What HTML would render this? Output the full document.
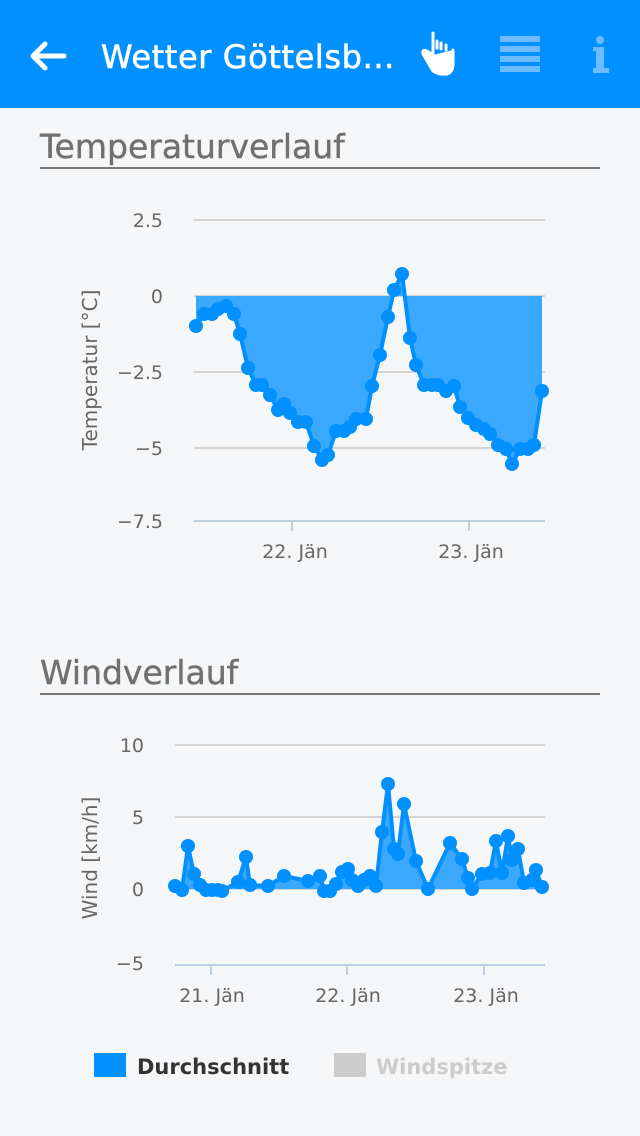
<!DOCTYPE html>
<html><head><meta charset="utf-8"><style>
body{margin:0;width:640px;height:1136px;background:#f5f6f8;font-family:"DejaVu Sans","Liberation Sans",sans-serif;overflow:hidden;position:relative}
.bar{position:absolute;left:0;top:0;width:640px;height:108px;background:#0090ff}
.title{position:absolute;left:101px;top:38px;color:#fff;font-size:32px;letter-spacing:0.6px;-webkit-text-stroke:0.6px #fff}
h2{position:absolute;margin:0;left:40px;font-weight:normal;color:#707070;font-size:33px;width:560px;border-bottom:2px solid #777;padding-bottom:0;line-height:40px;-webkit-text-stroke:0.4px #707070}
</style></head><body>
<div class="bar"></div>
<svg style="position:absolute;left:0;top:0" width="640" height="108">
<path d="M33 56 H64 M33 56 L45 44 M33 56 L45 68" stroke="#fff" stroke-width="5" stroke-linecap="round" stroke-linejoin="round" fill="none"/>
<path d="M433 33 v22 M433 55 l-6 -4 q-5 -2 -4 3 l10 17 q6 4 14 3 q6 -2 6 -10 v-14 M437 48 v-7 M441 49 v-6 M446 50 v-5" stroke="#fff" stroke-width="3" fill="#fff" stroke-linecap="round"/>
<g fill="#6dbcff"><rect x="500" y="36" width="40" height="6"/><rect x="500" y="46" width="40" height="6"/><rect x="500" y="56" width="40" height="6"/><rect x="500" y="66" width="40" height="6"/>
<circle cx="600" cy="40" r="4"/><rect x="593" y="47" width="11" height="4"/><rect x="596" y="47" width="8" height="24"/><rect x="593" y="68" width="16" height="5"/></g>
</svg>
<div class="title">Wetter Göttelsb...</div>
<h2 style="top:127px">Temperaturverlauf</h2>
<h2 style="top:653px">Windverlauf</h2>
<svg style="position:absolute;left:0;top:0" width="640" height="1136" font-family="DejaVu Sans, Liberation Sans, sans-serif">
<g stroke="#d4d4d4" stroke-width="2"><line x1="194" x2="545" y1="220" y2="220"/><line x1="194" x2="545" y1="296" y2="296"/><line x1="194" x2="545" y1="372" y2="372"/><line x1="194" x2="545" y1="448" y2="448"/>
<line x1="175" x2="545" y1="745" y2="745"/><line x1="175" x2="545" y1="817" y2="817"/><line x1="175" x2="545" y1="889" y2="889"/></g>
<g stroke="#c0cfe0" stroke-width="2"><line x1="194" x2="545" y1="521" y2="521"/><line x1="292" x2="292" y1="521" y2="531"/><line x1="469" x2="469" y1="521" y2="531"/>
<line x1="175" x2="545" y1="965" y2="965"/><line x1="211" x2="211" y1="965" y2="975"/><line x1="347" x2="347" y1="965" y2="975"/><line x1="484" x2="484" y1="965" y2="975"/></g>
<g fill="#666" font-size="19" text-anchor="end"><text x="163" y="227">2.5</text><text x="163" y="303">0</text><text x="163" y="379">−2.5</text><text x="163" y="455">−5</text><text x="163" y="528">−7.5</text>
<text x="144" y="752">10</text><text x="144" y="824">5</text><text x="144" y="896">0</text><text x="144" y="970">−5</text></g>
<g fill="#666" font-size="19" text-anchor="middle"><text x="295" y="558">22. Jän</text><text x="471" y="558">23. Jän</text>
<text x="212" y="1002">21. Jän</text><text x="348" y="1002">22. Jän</text><text x="486" y="1002">23. Jän</text>
<text transform="translate(97,370) rotate(-90)" font-size="20">Temperatur [°C]</text><text transform="translate(97,858) rotate(-90)" font-size="20">Wind [km/h]</text></g>
<polygon fill="#3aa8fc" points="196,296 196,326 204,314 212,314 218,309 226,306 234,314 240,334 248,368 256,385 262,385 270,395 278,410 284,404 290,413 298,422 306,422 314,446 322,460 328,455 336,431 344,431 350,427 356,419 366,419 372,386 380,355 388,317 394,290 402,274 410,338 416,365 424,385 432,385 438,385 446,391 454,386 460,407 468,418 476,425 484,429 490,434 498,445 506,449 512,464 520,449 528,449 534,445 542,391 542,296"/>
<polyline fill="none" stroke="#0090ff" stroke-width="4" stroke-linejoin="round" points="196,326 204,314 212,314 218,309 226,306 234,314 240,334 248,368 256,385 262,385 270,395 278,410 284,404 290,413 298,422 306,422 314,446 322,460 328,455 336,431 344,431 350,427 356,419 366,419 372,386 380,355 388,317 394,290 402,274 410,338 416,365 424,385 432,385 438,385 446,391 454,386 460,407 468,418 476,425 484,429 490,434 498,445 506,449 512,464 520,449 528,449 534,445 542,391"/>
<g fill="#0090ff">
<circle cx="196" cy="326" r="7"/><circle cx="204" cy="314" r="7"/><circle cx="212" cy="314" r="7"/><circle cx="218" cy="309" r="7"/><circle cx="226" cy="306" r="7"/><circle cx="234" cy="314" r="7"/><circle cx="240" cy="334" r="7"/><circle cx="248" cy="368" r="7"/><circle cx="256" cy="385" r="7"/><circle cx="262" cy="385" r="7"/><circle cx="270" cy="395" r="7"/><circle cx="278" cy="410" r="7"/><circle cx="284" cy="404" r="7"/><circle cx="290" cy="413" r="7"/><circle cx="298" cy="422" r="7"/><circle cx="306" cy="422" r="7"/><circle cx="314" cy="446" r="7"/><circle cx="322" cy="460" r="7"/><circle cx="328" cy="455" r="7"/><circle cx="336" cy="431" r="7"/><circle cx="344" cy="431" r="7"/><circle cx="350" cy="427" r="7"/><circle cx="356" cy="419" r="7"/><circle cx="366" cy="419" r="7"/><circle cx="372" cy="386" r="7"/><circle cx="380" cy="355" r="7"/><circle cx="388" cy="317" r="7"/><circle cx="394" cy="290" r="7"/><circle cx="402" cy="274" r="7"/><circle cx="410" cy="338" r="7"/><circle cx="416" cy="365" r="7"/><circle cx="424" cy="385" r="7"/><circle cx="432" cy="385" r="7"/><circle cx="438" cy="385" r="7"/><circle cx="446" cy="391" r="7"/><circle cx="454" cy="386" r="7"/><circle cx="460" cy="407" r="7"/><circle cx="468" cy="418" r="7"/><circle cx="476" cy="425" r="7"/><circle cx="484" cy="429" r="7"/><circle cx="490" cy="434" r="7"/><circle cx="498" cy="445" r="7"/><circle cx="506" cy="449" r="7"/><circle cx="512" cy="464" r="7"/><circle cx="520" cy="449" r="7"/><circle cx="528" cy="449" r="7"/><circle cx="534" cy="445" r="7"/><circle cx="542" cy="391" r="7"/>
</g>
<polygon fill="#3aa8fc" points="175,889 175,886 182,890 188,846 194,874 200,885 206,890 212,890 218,890 222,891 238,882 246,857 250,885 268,886 284,876 308,881 320,876 324,891 330,891 336,884 342,872 348,869 352,880 358,886 364,880 370,876 376,886 382,832 388,784 394,849 398,854 404,804 416,861 428,889 450,843 462,859 468,878 472,889 482,874 490,873 496,841 502,873 508,836 512,860 518,849 524,883 532,880 536,870 542,887 542,889"/>
<polyline fill="none" stroke="#0090ff" stroke-width="4" stroke-linejoin="round" points="175,886 182,890 188,846 194,874 200,885 206,890 212,890 218,890 222,891 238,882 246,857 250,885 268,886 284,876 308,881 320,876 324,891 330,891 336,884 342,872 348,869 352,880 358,886 364,880 370,876 376,886 382,832 388,784 394,849 398,854 404,804 416,861 428,889 450,843 462,859 468,878 472,889 482,874 490,873 496,841 502,873 508,836 512,860 518,849 524,883 532,880 536,870 542,887"/>
<g fill="#0090ff">
<circle cx="175" cy="886" r="7"/><circle cx="182" cy="890" r="7"/><circle cx="188" cy="846" r="7"/><circle cx="194" cy="874" r="7"/><circle cx="200" cy="885" r="7"/><circle cx="206" cy="890" r="7"/><circle cx="212" cy="890" r="7"/><circle cx="218" cy="890" r="7"/><circle cx="222" cy="891" r="7"/><circle cx="238" cy="882" r="7"/><circle cx="246" cy="857" r="7"/><circle cx="250" cy="885" r="7"/><circle cx="268" cy="886" r="7"/><circle cx="284" cy="876" r="7"/><circle cx="308" cy="881" r="7"/><circle cx="320" cy="876" r="7"/><circle cx="324" cy="891" r="7"/><circle cx="330" cy="891" r="7"/><circle cx="336" cy="884" r="7"/><circle cx="342" cy="872" r="7"/><circle cx="348" cy="869" r="7"/><circle cx="352" cy="880" r="7"/><circle cx="358" cy="886" r="7"/><circle cx="364" cy="880" r="7"/><circle cx="370" cy="876" r="7"/><circle cx="376" cy="886" r="7"/><circle cx="382" cy="832" r="7"/><circle cx="388" cy="784" r="7"/><circle cx="394" cy="849" r="7"/><circle cx="398" cy="854" r="7"/><circle cx="404" cy="804" r="7"/><circle cx="416" cy="861" r="7"/><circle cx="428" cy="889" r="7"/><circle cx="450" cy="843" r="7"/><circle cx="462" cy="859" r="7"/><circle cx="468" cy="878" r="7"/><circle cx="472" cy="889" r="7"/><circle cx="482" cy="874" r="7"/><circle cx="490" cy="873" r="7"/><circle cx="496" cy="841" r="7"/><circle cx="502" cy="873" r="7"/><circle cx="508" cy="836" r="7"/><circle cx="512" cy="860" r="7"/><circle cx="518" cy="849" r="7"/><circle cx="524" cy="883" r="7"/><circle cx="532" cy="880" r="7"/><circle cx="536" cy="870" r="7"/><circle cx="542" cy="887" r="7"/>
</g>
<rect x="94" y="1053" width="32" height="24" fill="#0090ff"/>
<text x="137" y="1074" font-size="21" font-weight="bold" fill="#333">Durchschnitt</text>
<rect x="334" y="1053" width="32" height="24" fill="#cccccc"/>
<text x="376" y="1074" font-size="21" font-weight="bold" fill="#cccccc">Windspitze</text>
</svg>
</body></html>
